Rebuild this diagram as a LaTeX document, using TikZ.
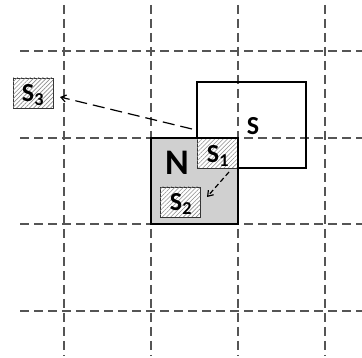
\documentclass[tikz,border=0pt]{standalone}
\usepackage{fontspec}
\setmainfont{Carlito}
\usetikzlibrary{patterns.meta,arrows.meta}
\definecolor{gridc}{HTML}{555555}
\definecolor{nfill}{HTML}{D0D0D0}
\begin{document}
\begin{tikzpicture}[x=1pt,y=-1pt,
  gridline/.style={draw=gridc,line width=1.3pt,dash pattern=on 9pt off 5pt},
  hatchbox/.style={draw=black!80,line width=0.8pt,fill=white,
    postaction={pattern={Lines[angle=45,distance=3pt,line width=0.6pt]},pattern color=gray!90}},
  lbl/.style={font=\bfseries\fontsize{26}{26}\selectfont,inner sep=0pt},
  movearrow/.style={-{Straight Barb[length=5pt,width=7pt]},line width=1.2pt}
]
\useasboundingbox (0,0) rectangle (362,358);
% grid
\foreach \x in {64,151,238,325} \draw[gridline] (\x,5) -- (\x,356);
\foreach \y in {51,138,224,311} \draw[gridline] (20,\y) -- (362,\y);
% S rectangle
\draw[line width=1.9pt] (197,82) rectangle (306,168);
\node[lbl] (slab) at (253,126) {S};
% N
\fill[nfill] (151,138) rectangle (238,224);
% S1
\draw[hatchbox] (197,138) rectangle (238,168);
\node[lbl] (s1) at (218,156) {S\textsubscript{1}};
% S2
\draw[hatchbox] (160,187) rectangle (200,217);
\node[lbl] (s2) at (181,204) {S\textsubscript{2}};
% S3
\draw[hatchbox] (13,78) rectangle (53,108);
\node[lbl] (s3) at (33,95) {S\textsubscript{3}};
% N border
\draw[line width=2.9pt] (151,138) rectangle (238,224);
\node[font=\bfseries\fontsize{36}{36}\selectfont,inner sep=0pt] (nlab) at (177,163) {N};
% arrows
\coordinate (a1s) at (192,129);
\coordinate (a1e) at (60,97);
\draw[movearrow,dash pattern=on 12pt off 6pt] (a1s) -- (a1e);
\coordinate (a2s) at (229,172);
\coordinate (a2e) at (207,197);
\draw[movearrow,dash pattern=on 5pt off 3pt] (a2s) -- (a2e);
\end{tikzpicture}
\end{document}
